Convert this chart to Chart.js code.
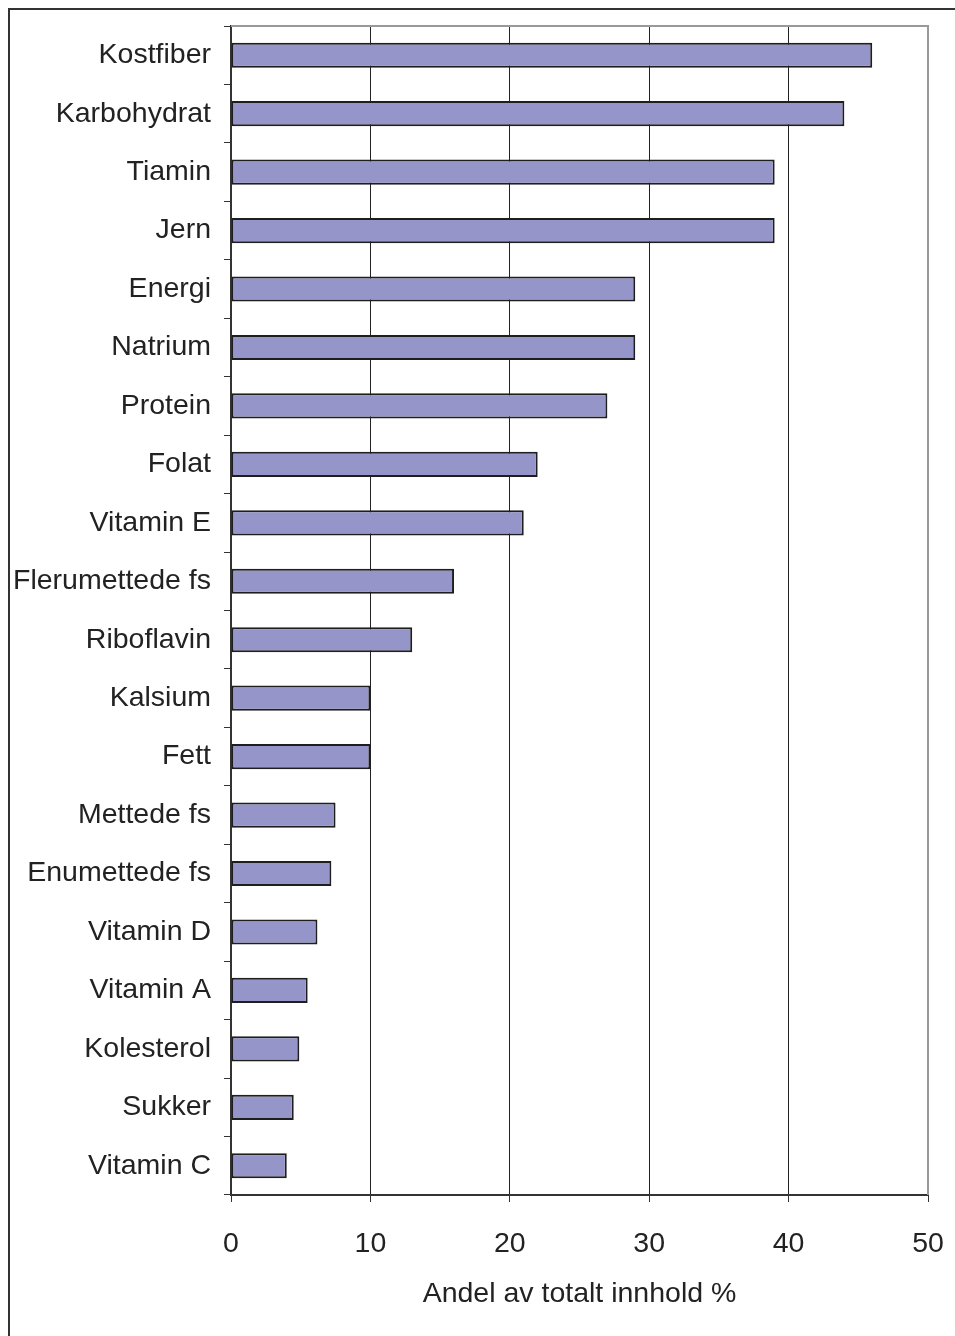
<!DOCTYPE html>
<html>
<head>
<meta charset="utf-8">
<script src="https://cdn.jsdelivr.net/npm/chart.js@4.4.1/dist/chart.umd.min.js"></script>
<style>
  html, body { margin: 0; padding: 0; background: #fff; }
  #wrap { position: relative; width: 955px; height: 1336px; }
</style>
</head>
<body>
<div id="wrap"><canvas id="chart" width="955" height="1336"></canvas></div>
<script>
var categories = ['Kostfiber', 'Karbohydrat', 'Tiamin', 'Jern', 'Energi', 'Natrium', 'Protein',
    'Folat', 'Vitamin E', 'Flerumettede fs', 'Riboflavin', 'Kalsium', 'Fett', 'Mettede fs',
    'Enumettede fs', 'Vitamin D', 'Vitamin A', 'Kolesterol', 'Sukker', 'Vitamin C'];
var shares = [46, 44, 39, 39, 29, 29, 27, 22, 21, 16, 13, 10, 10, 7.5, 7.2, 6.2, 5.5, 4.9, 4.5, 4.0];
var xTicks = [0, 10, 20, 30, 40, 50];
var xTitle = 'Andel av totalt innhold %';

var fontFamily = '"Liberation Sans", Arial, sans-serif';
var fontSize = 28.5;
var textColor = '#222';

// outer frame (left + top) and grey plot border (top + right)
var framePlugin = {
    id: 'frame',
    beforeDraw: function(chart) {
        var ctx = chart.ctx;
        ctx.save();
        ctx.strokeStyle = '#333';
        ctx.lineWidth = 2;
        ctx.beginPath();
        ctx.moveTo(9, 1336);
        ctx.lineTo(9, 9);
        ctx.lineTo(955, 9);
        ctx.stroke();
        ctx.restore();
    },
    afterDatasetsDraw: function(chart) {
        var a = chart.chartArea;
        var ctx = chart.ctx;
        ctx.save();
        ctx.strokeStyle = '#999';
        ctx.lineWidth = 2;
        ctx.beginPath();
        ctx.moveTo(a.left, a.top);
        ctx.lineTo(a.right, a.top);
        ctx.lineTo(a.right, a.bottom);
        ctx.stroke();
        ctx.restore();
    }
};

// drop the label overflow padding so layout.padding alone places the plot
function noPad(scale) {
    scale.paddingTop = 0;
    scale.paddingBottom = 0;
    scale.paddingLeft = 0;
    scale.paddingRight = 0;
}

new Chart(document.getElementById('chart'), {
    type: 'bar',
    data: {
        labels: categories,
        datasets: [{
            data: shares,
            backgroundColor: '#9595c9',
            borderColor: '#1e1e1e',
            borderWidth: 2,
            borderSkipped: false,
            categoryPercentage: 1,
            barPercentage: 0.43
        }]
    },
    options: {
        indexAxis: 'y',
        responsive: false,
        animation: false,
        devicePixelRatio: 1,
        layout: { padding: { top: 26, right: 27, left: 0, bottom: 21 } },
        plugins: {
            legend: { display: false },
            tooltip: { enabled: false }
        },
        scales: {
            x: {
                min: 0,
                max: 50,
                afterFit: function(scale) { scale.height = 120; noPad(scale); },
                afterBuildTicks: function(scale) {
                    scale.ticks = xTicks.map(function(v) { return { value: v }; });
                },
                grid: {
                    color: function(c) { return c.index === xTicks.length - 1 ? '#999' : '#222'; },
                    lineWidth: 1,
                    tickLength: 7,
                    tickColor: '#333'
                },
                border: { color: '#333', width: 2 },
                ticks: {
                    color: textColor,
                    padding: 25,
                    font: { family: fontFamily, size: fontSize }
                },
                title: {
                    display: true,
                    text: xTitle,
                    color: textColor,
                    padding: { top: 6 },
                    font: { family: fontFamily, size: fontSize }
                }
            },
            y: {
                afterFit: function(scale) { scale.width = 231; noPad(scale); },
                grid: {
                    offset: true,
                    drawOnChartArea: false,
                    tickLength: 7,
                    color: '#333'
                },
                border: { color: '#333', width: 2 },
                ticks: {
                    color: textColor,
                    padding: 13,
                    font: { family: fontFamily, size: fontSize }
                }
            }
        }
    },
    plugins: [framePlugin]
});
</script>
</body>
</html>
